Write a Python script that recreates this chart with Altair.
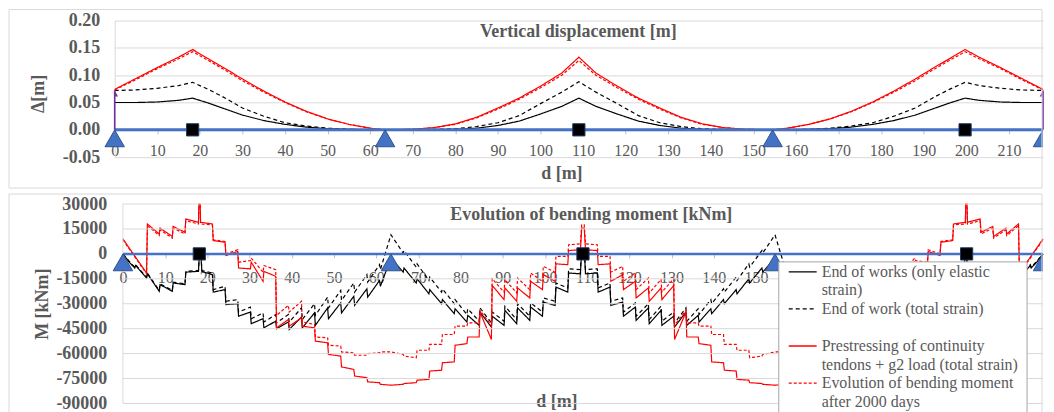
import altair as alt
import pandas as pd

SERIF = "Liberation Serif"
GRAY = "#595959"
GRID = "#d9d9d9"
BLUE = "#4472C4"

SERIES = [
    "End of works (only elastic strain)",
    "End of work (total strain)",
    "Prestressing of continuity tendons + g2 load (total strain)",
    "Evolution of bending moment after 2000 days",
]
LEGEND_LINES = [
    ["End of works (only elastic", "strain)"],
    ["End of work (total strain)"],
    ["Prestressing of continuity", "tendons + g2 load (total strain)"],
    ["Evolution of bending moment", "after 2000 days"],
]
SERIES_COLORS = ["#000000", "#000000", "#ff0000", "#ff0000"]
SERIES_DASH = [[1, 0], [4, 3], [1, 0], [3, 2]]

TITLE_TOP = "Vertical displacement [m]"
TITLE_BOT = "Evolution of bending moment [kNm]"

SUPPORTS = [0, 63.5, 154.5, 218]
JOINTS_TOP = [18.3, 109, 199.7]
JOINTS_BOT = [18.1, 109, 199.9]
ARROW_X = [0, 218]
ARROW_TOP = 0.072

X_TICKS_TOP = list(range(0, 220, 10))
X_TICKS_BOT = list(range(0, 160, 10))   # 160..210 sit under the legend box in the original
DISP_TICKS = [-0.05, 0.0, 0.05, 0.10, 0.15, 0.20]
MOM_TICKS = [30000, 15000, 0, -15000, -30000, -45000, -60000, -75000, -90000]

# ---------------- vertical displacement [m] ----------------
D_TOP = [0, 5, 10, 15, 18.3, 22, 26, 30, 35, 40, 45, 50, 55, 60, 63.5,
         70, 75, 80, 85, 90, 95, 100, 105, 109, 113, 118, 123, 128, 133, 138, 143, 148,
         154.5, 158, 163, 168, 173, 178, 183, 188, 192, 196, 199.7, 203, 208, 213, 218]
V_ELASTIC = [0.050, 0.050, 0.051, 0.054, 0.058, 0.049, 0.038, 0.027, 0.017, 0.010, 0.005, 0.002, 0.001, 0.000, 0.000,
             0.000, 0.000, 0.001, 0.003, 0.008, 0.016, 0.029, 0.043, 0.058, 0.043, 0.029, 0.016, 0.008, 0.003, 0.001, 0.000, 0.000,
             0.000, 0.000, 0.001, 0.002, 0.005, 0.010, 0.017, 0.027, 0.038, 0.049, 0.058, 0.054, 0.051, 0.050, 0.050]
V_TOTAL = [0.072, 0.073, 0.076, 0.081, 0.087, 0.074, 0.058, 0.040, 0.025, 0.013, 0.007, 0.003, 0.001, 0.000, 0.000,
           0.000, 0.001, 0.002, 0.006, 0.013, 0.026, 0.048, 0.069, 0.088, 0.069, 0.048, 0.026, 0.013, 0.006, 0.002, 0.001, 0.000,
           0.000, 0.000, 0.001, 0.003, 0.007, 0.013, 0.025, 0.040, 0.058, 0.074, 0.087, 0.081, 0.076, 0.073, 0.072]
V_PRESTRESS = [0.074, 0.094, 0.114, 0.133, 0.147, 0.130, 0.112, 0.093, 0.071, 0.051, 0.034, 0.020, 0.010, 0.003, 0.000,
               0.001, 0.004, 0.011, 0.023, 0.040, 0.058, 0.080, 0.104, 0.133, 0.104, 0.080, 0.058, 0.040, 0.023, 0.011, 0.004, 0.001,
               0.000, 0.003, 0.010, 0.020, 0.034, 0.051, 0.071, 0.093, 0.112, 0.130, 0.147, 0.133, 0.114, 0.094, 0.074]
V_2000 = [0.073, 0.092, 0.112, 0.130, 0.143, 0.127, 0.109, 0.090, 0.069, 0.050, 0.033, 0.020, 0.010, 0.003, 0.000,
          0.001, 0.004, 0.010, 0.022, 0.038, 0.056, 0.077, 0.100, 0.127, 0.100, 0.077, 0.056, 0.038, 0.022, 0.010, 0.004, 0.001,
          0.000, 0.003, 0.010, 0.020, 0.033, 0.050, 0.069, 0.090, 0.109, 0.127, 0.143, 0.130, 0.112, 0.092, 0.073]

# ---------------- bending moment [kNm] : (d, M) ----------------
M_ELASTIC = [(0, 0), (1.5, -5000), (2.8, -8500), (3.0, -7000), (5.6, -14500), (5.8, -12000), (8.6, -22500), (8.8, -18500),
             (11.7, -22500), (11.9, -17500), (14.7, -18500), (14.9, -11000), (17.9, -10500), (18.1, -1000), (18.5, -1000),
             (18.7, -10500), (21.2, -12500), (21.4, -23000), (24.2, -21500), (24.4, -30500), (27.2, -30000), (27.4, -37500),
             (30.2, -35000), (30.4, -42000), (33.2, -39000), (33.4, -44500), (36.2, -40500), (36.4, -45000), (39.2, -41000),
             (39.4, -45500), (42.3, -38000), (42.5, -44500), (45.4, -35500), (45.6, -43000), (48.5, -32500), (48.7, -39000),
             (51.6, -29500), (51.8, -35500), (54.7, -25500), (54.9, -31000), (57.8, -21000), (58.0, -26000), (60.8, -16000),
             (61.0, -19500), (63.5, -2500),
             (66.4, -11000), (66.6, -8500), (69.5, -17500), (69.7, -15000), (72.5, -24000), (72.7, -21500), (75.5, -30000),
             (75.7, -27500), (78.5, -36000), (78.7, -33000), (81.5, -41000), (81.7, -37000), (84.4, -43000), (84.6, -35000),
             (87.3, -44000), (87.5, -37500), (90.3, -43000), (90.5, -34000), (93.3, -42000), (93.5, -32500), (96.4, -40000),
             (96.6, -32000), (99.4, -37500), (99.6, -29000), (102.4, -31000), (102.6, -20000), (105.4, -23000), (105.6, -11500),
             (108.4, -12000), (108.6, -2000), (109, -2000),
             (109.4, -2000), (109.6, -12000), (112.4, -11500), (112.6, -23000), (115.4, -20000), (115.6, -31000), (118.4, -29000),
             (118.6, -37500), (121.4, -32000), (121.6, -40000), (124.5, -32500), (124.7, -42000), (127.5, -34000), (127.7, -43000),
             (130.5, -37500), (130.7, -44000), (133.4, -35000), (133.6, -43000), (136.3, -37000), (136.5, -41000), (139.3, -33000),
             (139.5, -36000), (142.3, -27500), (142.5, -30000), (145.3, -21500), (145.5, -24000), (148.3, -15000), (148.5, -17500),
             (151.4, -8500), (151.6, -11000), (154.5, -2500),
             (157.0, -19500), (157.2, -16000), (160.0, -26000), (160.2, -21000), (163.1, -31000), (163.3, -25500), (166.2, -35500),
             (166.4, -29500), (169.3, -39000), (169.5, -32500), (172.4, -43000), (172.6, -35500), (175.5, -44500), (175.7, -38000),
             (178.6, -45500), (178.8, -41000), (181.6, -45000), (181.8, -40500), (184.6, -44500), (184.8, -39000), (187.6, -42000),
             (187.8, -35000), (190.6, -37500), (190.8, -30000), (193.6, -30500), (193.8, -21500), (196.6, -23000), (196.8, -12500),
             (199.3, -10500), (199.5, -1000), (199.9, -1000), (200.1, -10500), (203.1, -11000), (203.3, -18500), (206.1, -17500),
             (206.3, -22500), (209.2, -18500), (209.4, -22500), (212.2, -12000), (212.4, -14500), (215.0, -7000), (215.2, -8500),
             (216.5, -5000), (218, 0)]

M_TOTAL = [(0, 0), (1.5, -4500), (2.8, -8000), (3.0, -6500), (5.6, -14000), (5.8, -11500), (8.6, -22000), (8.8, -18000),
           (11.7, -22000), (11.9, -17000), (14.7, -18000), (14.9, -10500), (17.9, -10000), (18.1, -500), (18.5, -500),
           (18.7, -10000), (21.2, -11500), (21.4, -21500), (24.2, -19500), (24.4, -28500), (27.2, -27500), (27.4, -35000),
           (30.2, -32000), (30.4, -39000), (33.2, -35500), (33.4, -41000), (36.2, -36500), (36.4, -41500), (39.2, -36500),
           (39.4, -41000), (42.3, -32500), (42.5, -39500), (45.4, -30000), (45.6, -37000), (48.5, -26000), (48.7, -32500),
           (51.6, -22000), (51.8, -28000), (54.7, -17500), (54.9, -23000), (57.8, -12500), (58.0, -17000), (60.8, -6500),
           (61.0, -9500), (63.5, 11500),
           (66.4, 500), (66.6, 2000), (69.5, -8000), (69.7, -6000), (72.5, -16000), (72.7, -14000), (75.5, -23000),
           (75.7, -21000), (78.5, -30000), (78.7, -27500), (81.5, -36500), (81.7, -33000), (84.4, -40500), (84.6, -32500),
           (87.3, -41500), (87.5, -35000), (90.3, -40500), (90.5, -31500), (93.3, -39500), (93.5, -30000), (96.4, -37500),
           (96.6, -29500), (99.4, -35000), (99.6, -26500), (102.4, -28500), (102.6, -17500), (105.4, -20500), (105.6, -9000),
           (108.4, -9500), (108.6, 0), (109, 0),
           (109.4, 0), (109.6, -9500), (112.4, -9000), (112.6, -20500), (115.4, -17500), (115.6, -28500), (118.4, -26500),
           (118.6, -35000), (121.4, -29500), (121.6, -37500), (124.5, -30000), (124.7, -39500), (127.5, -31500), (127.7, -40500),
           (130.5, -35000), (130.7, -41500), (133.4, -32500), (133.6, -40500), (136.3, -33000), (136.5, -36500), (139.3, -27500),
           (139.5, -30000), (142.3, -21000), (142.5, -23000), (145.3, -14000), (145.5, -16000), (148.3, -6000), (148.5, -8000),
           (151.4, 2000), (151.6, 500), (154.5, 11500),
           (157.0, -9500), (157.2, -6500), (160.0, -17000), (160.2, -12500), (163.1, -23000), (163.3, -17500), (166.2, -28000),
           (166.4, -22000), (169.3, -32500), (169.5, -26000), (172.4, -37000), (172.6, -30000), (175.5, -39500), (175.7, -32500),
           (178.6, -41000), (178.8, -36500), (181.6, -41500), (181.8, -36500), (184.6, -41000), (184.8, -35500), (187.6, -39000),
           (187.8, -32000), (190.6, -35000), (190.8, -27500), (193.6, -28500), (193.8, -19500), (196.6, -21500), (196.8, -11500),
           (199.3, -10000), (199.5, -500), (199.9, -500), (200.1, -10000), (203.1, -10500), (203.3, -18000), (206.1, -17000),
           (206.3, -22000), (209.2, -18000), (209.4, -22000), (212.2, -11500), (212.4, -14000), (215.0, -6500), (215.2, -8000),
           (216.5, -4500), (218, 0)]

M_PRESTRESS = [(0, 9000), (5.6, -11500), (5.8, 18000), (8.6, 12000), (8.8, 15500), (11.7, 10500), (11.9, 16500), (14.7, 13000),
               (14.9, 21000), (17.9, 19000), (18.0, 30000), (18.3, 30000), (18.4, 19000), (21.2, 18000), (21.4, 8000),
               (24.2, 7000), (24.4, -1000), (27.2, 1500), (27.4, -8500), (30.2, -9000), (30.4, -5000), (33.2, -16500),
               (33.4, -10500), (36.2, -13500), (36.4, -44500), (39.2, -39500), (39.4, -43500), (42.3, -38500), (42.5, -43500),
               (45.4, -44500), (45.6, -52500), (48.5, -53500), (48.7, -60500), (51.6, -61500), (51.8, -68000), (54.7, -69500),
               (54.9, -73500), (57.8, -74500), (58.0, -77000), (60.8, -77500), (61.0, -78500), (63.5, -79000),
               (66.4, -78500), (66.6, -78000), (69.5, -77500), (69.7, -76000), (72.5, -75500), (72.7, -70500), (75.5, -70000),
               (75.7, -65500), (78.5, -65000), (78.7, -55000), (81.5, -54000), (81.7, -50000), (84.4, -50000), (84.6, -35000),
               (87.3, -51500), (87.5, -19000), (90.3, -27500), (90.5, -20500), (93.3, -28500), (93.5, -20500), (96.4, -26500),
               (96.6, -16500), (99.4, -21500), (99.6, -12500), (102.4, -16500), (102.6, -6000), (105.4, -6500), (105.6, 2000),
               (108.4, 2500), (108.7, 15500), (109, 15500),
               (109.3, 15500), (109.6, 2500), (112.4, 2000), (112.6, -6500), (115.4, -6000), (115.6, -16500), (118.4, -12500),
               (118.6, -21500), (121.4, -16500), (121.6, -26500), (124.5, -20500), (124.7, -28500), (127.5, -20500),
               (127.7, -27500), (130.5, -19000), (130.7, -51500), (133.4, -35000), (133.6, -50000), (136.3, -50000),
               (136.5, -54000), (139.3, -55000), (139.5, -65000), (142.3, -65500), (142.5, -70000), (145.3, -70500),
               (145.5, -75500), (148.3, -76000), (148.5, -77500), (151.4, -78000), (151.6, -78500), (154.5, -79000),
               (157.0, -78500), (157.2, -77500), (160.0, -77000), (160.2, -74500), (163.1, -73500), (163.3, -69500),
               (166.2, -68000), (166.4, -61500), (169.3, -60500), (169.5, -53500), (172.4, -52500), (172.6, -44500),
               (175.5, -43500), (175.7, -38500), (178.6, -43500), (178.8, -39500), (181.6, -44500), (181.8, -13500),
               (184.6, -10500), (184.8, -16500), (187.6, -5000), (187.8, -9000), (190.6, -8500), (190.8, 1500), (193.6, -1000),
               (193.8, 7000), (196.6, 8000), (196.8, 18000), (199.6, 19000), (199.7, 30000), (200.0, 30000), (200.1, 19000),
               (203.1, 21000), (203.3, 13000), (206.1, 16500), (206.3, 10500), (209.2, 15500), (209.4, 12000), (212.2, 18000),
               (212.4, -11500), (218, 9000)]

M_2000 = [(0, 8500), (5.6, -12000), (5.8, 17000), (8.6, 11000), (8.8, 14500), (11.7, 9500), (11.9, 15500), (14.7, 12000),
          (14.9, 20000), (17.9, 18000), (18.0, 29000), (18.3, 29000), (18.4, 18000), (21.2, 17500), (21.4, 8500), (24.2, 7500),
          (24.4, 0), (27.2, 2500), (27.4, -5000), (30.2, -4000), (30.4, -2500), (33.2, -11000), (33.4, -7000), (36.2, -9500),
          (36.4, -37000), (39.2, -31000), (39.4, -35000), (42.3, -28500), (42.5, -41000), (45.4, -42500), (45.6, -50000),
          (48.5, -50500), (48.7, -55000), (51.6, -55500), (51.8, -59000), (54.7, -59500), (54.9, -61000), (57.8, -61000),
          (58.0, -60000), (60.8, -59500), (61.0, -59000), (63.5, -59000),
          (66.4, -60500), (66.6, -61500), (69.5, -62500), (69.7, -58000), (72.5, -58000), (72.7, -54500), (75.5, -54500),
          (75.7, -48500), (78.5, -48500), (78.7, -43500), (81.5, -43500), (81.7, -41500), (84.4, -41500), (84.6, -34000),
          (87.3, -43000), (87.5, -15000), (90.3, -23000), (90.5, -15500), (93.3, -23500), (93.5, -14500), (96.4, -21500),
          (96.6, -11500), (99.4, -16500), (99.6, -7500), (102.4, -11000), (102.6, -1500), (105.4, -1500), (105.6, 5500),
          (108.4, 6000), (108.7, 17500), (109, 17500),
          (109.3, 17500), (109.6, 6000), (112.4, 5500), (112.6, -1500), (115.4, -1500), (115.6, -11000), (118.4, -7500),
          (118.6, -16500), (121.4, -11500), (121.6, -21500), (124.5, -14500), (124.7, -23500), (127.5, -15500), (127.7, -23000),
          (130.5, -15000), (130.7, -43000), (133.4, -34000), (133.6, -41500), (136.3, -41500), (136.5, -43500), (139.3, -43500),
          (139.5, -48500), (142.3, -48500), (142.5, -54500), (145.3, -54500), (145.5, -58000), (148.3, -58000), (148.5, -62500),
          (151.4, -61500), (151.6, -60500), (154.5, -59000),
          (157.0, -59000), (157.2, -59500), (160.0, -60000), (160.2, -61000), (163.1, -61000), (163.3, -59500), (166.2, -59000),
          (166.4, -55500), (169.3, -55000), (169.5, -50500), (172.4, -50000), (172.6, -42500), (175.5, -41000), (175.7, -28500),
          (178.6, -35000), (178.8, -31000), (181.6, -37000), (181.8, -9500), (184.6, -7000), (184.8, -11000), (187.6, -2500),
          (187.8, -4000), (190.6, -5000), (190.8, 2500), (193.6, 0), (193.8, 7500), (196.6, 8500), (196.8, 17500),
          (199.6, 18000), (199.7, 29000), (200.0, 29000), (200.1, 18000), (203.1, 20000), (203.3, 12000), (206.1, 15500),
          (206.3, 9500), (209.2, 14500), (209.4, 11000), (212.2, 17000), (212.4, -12000), (218, 8500)]

# ---------------- tables ----------------
top_rows = []
for name, vals in zip(SERIES, [V_ELASTIC, V_TOTAL, V_PRESTRESS, V_2000]):
    for i, (d, v) in enumerate(zip(D_TOP, vals)):
        top_rows.append({"d": d, "v": v, "series": name, "i": i})
top_df = pd.DataFrame(top_rows)

bot_rows = []
for name, pairs in zip(SERIES, [M_ELASTIC, M_TOTAL, M_PRESTRESS, M_2000]):
    for i, (d, m) in enumerate(pairs):
        bot_rows.append({"d": d, "v": m, "series": name, "i": i})
bot_df = pd.DataFrame(bot_rows)

one = pd.DataFrame({"k": [0]})

W = 931
H_TOP = 137
H_BOT = 200

xs_top = alt.Scale(domain=[0, 218], nice=False, zero=False)
xs_bot = alt.Scale(domain=[-1.95, 218], nice=False, zero=False)
ys_top = alt.Scale(domain=[-0.05, 0.20], nice=False, zero=False)
ys_bot = alt.Scale(domain=[-90000, 30000], nice=False, zero=False)

color_enc = alt.Color("series:N", scale=alt.Scale(domain=SERIES, range=SERIES_COLORS), legend=None)
dash_enc = alt.StrokeDash("series:N", scale=alt.Scale(domain=SERIES, range=SERIES_DASH), legend=None)


def x_axis(values, offset, label_pad, title_x, title_y):
    return alt.Axis(values=values, tickCount=40, offset=offset, domain=False, grid=False, ticks=True, tickSize=4,
                    tickColor="#bfbfbf", labelFont=SERIF, labelFontSize=16, labelColor=GRAY,
                    labelPadding=label_pad, labelFlush=False, labelOverlap=False, title="d [m]",
                    titleFont=SERIF, titleFontSize=18, titleFontWeight="bold", titleColor=GRAY,
                    titleX=title_x, titleY=title_y, titleBaseline="middle", titleAlign="center")


y_axis_top = alt.Axis(values=DISP_TICKS, tickCount=40,
                      labelExpr="datum.value < 0 ? '-' + format(-datum.value, '.2f') : format(datum.value, '.2f')",
                      domain=True, domainColor=GRID, ticks=False, grid=True, gridColor=GRID,
                      labelFont=SERIF, labelFontSize=18, labelFontWeight="bold", labelColor=GRAY,
                      labelPadding=15, labelOverlap=False, title="Δ[m]", titleFont=SERIF, titleFontSize=18,
                      titleFontWeight="bold", titleColor=GRAY, titleX=-76, titleY=73,
                      titleBaseline="middle", titleAngle=270)

y_axis_bot = alt.Axis(values=MOM_TICKS, tickCount=40,
                      labelExpr="datum.value < 0 ? '-' + format(-datum.value, 'd') : format(datum.value, 'd')",
                      domain=False, ticks=False, grid=False,
                      labelFont=SERIF, labelFontSize=18, labelFontWeight="bold", labelColor=GRAY,
                      labelPadding=8, labelOverlap=False, title="M [kNm]", titleFont=SERIF, titleFontSize=18,
                      titleFontWeight="bold", titleColor=GRAY, titleX=-72, titleY=100,
                      titleBaseline="middle", titleAngle=270)


def frame(x0, x1, y0, y1):
    """Light grey outline of a chart panel, drawn as four rules."""
    edges = [(x0, x1, y0, y0), (x0, x1, y1, y1), (x0, x0, y0, y1), (x1, x1, y0, y1)]
    return [alt.Chart(one).mark_rule(color=GRID, strokeWidth=1).encode(
        x=alt.value(a), x2=alt.value(b), y=alt.value(c), y2=alt.value(e)) for a, b, c, e in edges]


def supports(df, xs, ys, clip):
    return alt.Chart(df).mark_point(shape="triangle-up", filled=True, size=380, fill=BLUE, stroke="#2F528F",
                                    strokeWidth=1, opacity=1, yOffset=8.5, clip=clip).encode(
        x=alt.X("d:Q", scale=xs), y=alt.Y("v:Q", scale=ys))


def panel(lines_df, xs, ys, xaxis, yaxis, joints, beam_w, title, title_x, extra_top, frame_y):
    lines = alt.Chart(lines_df).mark_line(strokeWidth=1.2).encode(
        x=alt.X("d:Q", scale=xs, axis=xaxis), y=alt.Y("v:Q", scale=ys, axis=yaxis),
        color=color_enc, strokeDash=dash_enc, order=alt.Order("i:Q"))
    beam = alt.Chart(pd.DataFrame({"d": [0], "d2": [218], "v": [0.0]})).mark_rule(
        color=BLUE, strokeWidth=beam_w).encode(x=alt.X("d:Q", scale=xs), x2="d2:Q", y=alt.Y("v:Q", scale=ys))
    sup_df = pd.DataFrame({"d": SUPPORTS, "v": [0.0] * len(SUPPORTS)})
    sup_in = supports(sup_df[sup_df["d"] < 218], xs, ys, False)
    sup_end = supports(sup_df[sup_df["d"] >= 218], xs, ys, True)
    jnt = alt.Chart(pd.DataFrame({"d": joints, "v": [0.0] * len(joints)})).mark_point(
        shape="square", filled=True, size=150, fill="#000000", stroke="#203864", strokeWidth=1,
        opacity=1).encode(x=alt.X("d:Q", scale=xs), y=alt.Y("v:Q", scale=ys))
    ttl = alt.Chart(pd.DataFrame({"t": [title]})).mark_text(
        font=SERIF, fontSize=18, fontWeight="bold", color=GRAY, align="center", baseline="middle").encode(
        x=alt.value(title_x), y=alt.value(11), text="t:N")
    return lines, [beam] + extra_top + [sup_in, sup_end, jnt], [ttl] + frame(-106, 930, *frame_y)


# ---------------- top panel ----------------
arrow_df = pd.DataFrame({"d": ARROW_X, "v": [0.0] * len(ARROW_X), "v2": [ARROW_TOP] * len(ARROW_X)})
top_arrow = alt.Chart(arrow_df).mark_rule(color="#7030A0", strokeWidth=1.6).encode(
    x=alt.X("d:Q", scale=xs_top), y=alt.Y("v:Q", scale=ys_top), y2="v2:Q")
top_arrow_head = alt.Chart(arrow_df).mark_point(shape="triangle-up", filled=True, size=45, color="#7030A0",
                                                opacity=1, yOffset=3, clip=True).encode(
    x=alt.X("d:Q", scale=xs_top), y=alt.Y("v2:Q", scale=ys_top))

t_lines, t_marks, t_deco = panel(top_df, xs_top, ys_top, x_axis(X_TICKS_TOP, -27.4, 9, 448, 44), y_axis_top,
                                 JOINTS_TOP, 3, TITLE_TOP, 465, [top_arrow, top_arrow_head], (-11, 168))
top = alt.layer(t_lines, *t_marks, *t_deco).properties(width=W, height=H_TOP)

# ---------------- bottom panel ----------------
grid_df = pd.DataFrame({"v": MOM_TICKS, "d": [0] * len(MOM_TICKS), "d2": [218] * len(MOM_TICKS)})
bot_grid = alt.Chart(grid_df).mark_rule(color=GRID, strokeWidth=1).encode(
    x=alt.X("d:Q", scale=xs_bot), x2="d2:Q", y=alt.Y("v:Q", scale=ys_bot))
vline_df = pd.DataFrame({"d": [0], "v": [-90000], "v2": [30000]})
bot_vline = alt.Chart(vline_df).mark_rule(color=GRID, strokeWidth=1).encode(
    x=alt.X("d:Q", scale=xs_bot), y=alt.Y("v:Q", scale=ys_bot), y2="v2:Q")

# legend (drawn over the plot, as in the original)
LEG_ROW0 = 68
LEG_DY = 18.6
legend_layers = [alt.Chart(one).mark_rect(fill="white", stroke="#a6a6a6", strokeWidth=1).encode(
    x=alt.value(666), x2=alt.value(915), y=alt.value(58), y2=alt.value(216))]
row = 0
for k, name in enumerate(SERIES):
    lines = LEGEND_LINES[k]
    y0 = LEG_ROW0 + row * LEG_DY
    legend_layers.append(alt.Chart(one).mark_rule(color=SERIES_COLORS[k], strokeDash=SERIES_DASH[k],
                                                  strokeWidth=1.3).encode(
        x=alt.value(676), x2=alt.value(704), y=alt.value(y0)))
    for j, line in enumerate(lines):
        legend_layers.append(alt.Chart(pd.DataFrame({"t": [line]})).mark_text(
            align="left", baseline="middle", font=SERIF, fontSize=16, color=GRAY).encode(
            x=alt.value(709), y=alt.value(y0 + j * LEG_DY), text="t:N"))
    row += len(lines)
    if k == 1:
        row += 1

b_lines, b_marks, b_deco = panel(bot_df, xs_bot, ys_bot, x_axis(X_TICKS_BOT, -150, 12, 443, 148), y_axis_bot,
                                 JOINTS_BOT, 2.5, TITLE_BOT, 478, [], (-10, 212))
bottom = alt.layer(b_lines, bot_grid, bot_vline, *b_marks, *legend_layers, *b_deco).properties(
    width=W, height=H_BOT)

chart = alt.vconcat(top, bottom, spacing=47, bounds="flush").properties(
    padding=0, background="white").configure_view(stroke=None)

chart.save("out.html", embed_options={"renderer": "svg", "actions": False})
